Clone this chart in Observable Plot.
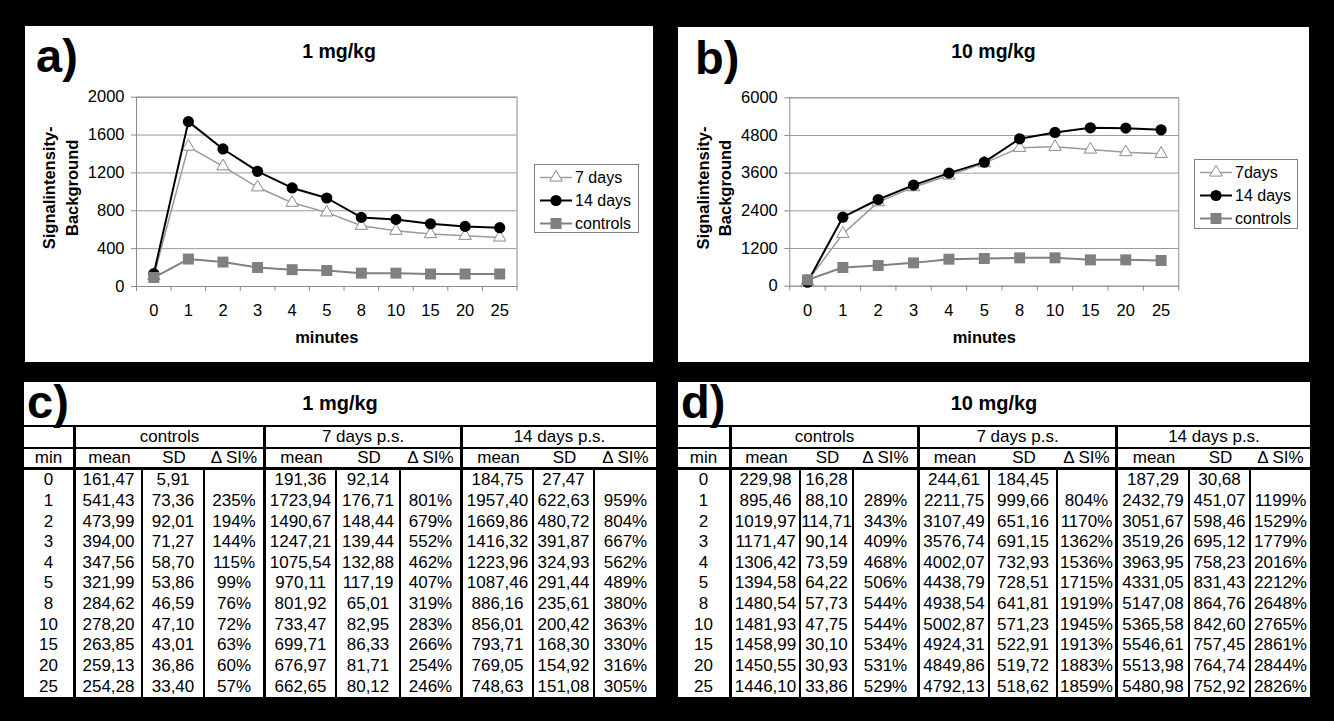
<!DOCTYPE html>
<html><head><meta charset="utf-8">
<script src="https://cdn.jsdelivr.net/npm/d3@7"></script>
<script src="https://cdn.jsdelivr.net/npm/@observablehq/plot@0.6"></script>
<style>
html,body{margin:0;padding:0;background:#000;width:1334px;height:721px;overflow:hidden;font-family:"Liberation Sans",Arial,sans-serif;color:#000;}
.panel{position:absolute;background:#fff;overflow:visible;}
.tag{position:absolute;font-weight:bold;font-size:47px;line-height:46px;white-space:nowrap;}
.ptitle{position:absolute;left:0;right:0;text-align:center;font-weight:bold;font-size:19.5px;line-height:22px;}
.legend{position:absolute;border:1px solid #808080;background:#fff;box-sizing:border-box;}
.lrow{position:absolute;left:0;height:23px;width:100%;}
.lrow svg{position:absolute;left:4px;top:0;}
.lrow span{position:absolute;left:40px;top:0;line-height:23px;font-size:16px;white-space:nowrap;}
.grid{position:absolute;display:grid;background:#fff;font-size:17px;}
.grid div{box-sizing:border-box;display:flex;align-items:center;justify-content:center;white-space:nowrap;border:0 solid #000;}
</style>
</head><body>
<script>
// ---------- data ----------
const minutes = ["0","1","2","3","4","5","8","10","15","20","25"];

// chart a) 1 mg/kg : signal intensity - background
const a7days  = [110, 1478, 1270, 1048, 885, 783, 642, 589, 554, 536, 518];
const a14days = [135, 1742, 1453, 1217, 1041, 935, 730, 709, 663, 635, 621];
const aControls = [95, 290, 258, 201, 178, 169, 141, 141, 132, 132, 132];

// chart b) 10 mg/kg
const b7days  = [160, 1667, 2676, 3154, 3526, 3919, 4407, 4439, 4354, 4269, 4216];
const b14days = [127, 2198, 2761, 3218, 3600, 3950, 4694, 4896, 5044, 5034, 4981];
const bControls = [202, 595, 658, 743, 860, 881, 903, 903, 839, 839, 818];

const aYTicks = [0, 400, 800, 1200, 1600, 2000];
const bYTicks = [0, 1200, 2400, 3600, 4800, 6000];

// table c) 1 mg/kg
const cCtrlMean = [161.47, 541.43, 473.99, 394.00, 347.56, 321.99, 284.62, 278.20, 263.85, 259.13, 254.28];
const cCtrlSD   = [5.91, 73.36, 92.01, 71.27, 58.70, 53.86, 46.59, 47.10, 43.01, 36.86, 33.40];
const cCtrlDSI  = [null, 235, 194, 144, 115, 99, 76, 72, 63, 60, 57];
const c7Mean = [191.36, 1723.94, 1490.67, 1247.21, 1075.54, 970.11, 801.92, 733.47, 699.71, 676.97, 662.65];
const c7SD   = [92.14, 176.71, 148.44, 139.44, 132.88, 117.19, 65.01, 82.95, 86.33, 81.71, 80.12];
const c7DSI  = [null, 801, 679, 552, 462, 407, 319, 283, 266, 254, 246];
const c14Mean = [184.75, 1957.40, 1669.86, 1416.32, 1223.96, 1087.46, 886.16, 856.01, 793.71, 769.05, 748.63];
const c14SD   = [27.47, 622.63, 480.72, 391.87, 324.93, 291.44, 235.61, 200.42, 168.30, 154.92, 151.08];
const c14DSI  = [null, 959, 804, 667, 562, 489, 380, 363, 330, 316, 305];

// table d) 10 mg/kg
const dCtrlMean = [229.98, 895.46, 1019.97, 1171.47, 1306.42, 1394.58, 1480.54, 1481.93, 1458.99, 1450.55, 1446.10];
const dCtrlSD   = [16.28, 88.10, 114.71, 90.14, 73.59, 64.22, 57.73, 47.75, 30.10, 30.93, 33.86];
const dCtrlDSI  = [null, 289, 343, 409, 468, 506, 544, 544, 534, 531, 529];
const d7Mean = [244.61, 2211.75, 3107.49, 3576.74, 4002.07, 4438.79, 4938.54, 5002.87, 4924.31, 4849.86, 4792.13];
const d7SD   = [184.45, 999.66, 651.16, 691.15, 732.93, 728.51, 641.81, 571.23, 522.91, 519.72, 518.62];
const d7DSI  = [null, 804, 1170, 1362, 1536, 1715, 1919, 1945, 1913, 1883, 1859];
const d14Mean = [187.29, 2432.79, 3051.67, 3519.26, 3963.95, 4331.05, 5147.08, 5365.58, 5546.61, 5513.98, 5480.98];
const d14SD   = [30.68, 451.07, 598.46, 695.12, 758.23, 831.43, 864.76, 842.60, 757.45, 764.74, 752.92];
const d14DSI  = [null, 1199, 1529, 1779, 2016, 2212, 2648, 2765, 2861, 2844, 2826];

const groupLabels = ["controls", "7 days p.s.", "14 days p.s."];
const subLabels = ["mean", "SD", "\u0394 SI%"];

// ---------- styles ----------
const S7 = {stroke: "#9a9a9a", lineW: 1.5, symbol: "triangle", r: 4.6, fill: "#fff", mstroke: "#8a8a8a"};
const S14 = {stroke: "#000", lineW: 2, symbol: "circle", r: 5.6, fill: "#000", mstroke: "none"};
const SC = {stroke: "#808080", lineW: 2, symbol: "square", r: 6.2, fill: "#808080", mstroke: "none"};

function panel(left, top, w, h) {
  const d = document.createElement("div");
  d.className = "panel";
  Object.assign(d.style, {left: left + "px", top: top + "px", width: w + "px", height: h + "px"});
  document.body.appendChild(d);
  return d;
}
function addText(parent, cls, text, css) {
  const d = document.createElement("div");
  d.className = cls; d.textContent = text;
  Object.assign(d.style, css || {});
  parent.appendChild(d);
  return d;
}

function chart(el, cfg) {
  const idx = d3.range(minutes.length);
  const bounds = d3.range(-0.5, minutes.length, 1);
  const series = [[cfg.s7, S7], [cfg.s14, S14], [cfg.sc, SC]];
  const marks = [
    Plot.ruleY(cfg.yTicks, {stroke: "#9a9a9a", strokeWidth: 1}),
    Plot.frame({stroke: "#8c8c8c", strokeWidth: 1}),
    Plot.axisY({ticks: cfg.yTicks, tickSize: 5, tickPadding: 7, stroke: "#8c8c8c", label: null, tickFormat: d => String(d)}),
    Plot.axisX({ticks: idx, tickSize: 0, tickPadding: 18, tickFormat: i => minutes[i], label: null}),
    Plot.axisX({ticks: bounds, tickSize: 5, tickFormat: () => "", stroke: "#8c8c8c", label: null}),
    Plot.text(["Signalintensity-\nBackground"], {frameAnchor: "left", rotate: -90, dx: -77, dy: -4, fontWeight: "bold", fontSize: 16.5, lineHeight: 1.36, textAnchor: "middle"}),
    Plot.text(["minutes"], {frameAnchor: "bottom", lineAnchor: "middle", dy: 51.5, fontWeight: "bold", fontSize: 16.5})
  ];
  for (const [vals, st] of series) {
    marks.push(Plot.line(idx, {x: i => i, y: i => vals[i], stroke: st.stroke, strokeWidth: st.lineW}));
    marks.push(Plot.dot(idx, {x: i => i, y: i => vals[i], symbol: st.symbol, r: st.r, fill: st.fill, stroke: st.mstroke, strokeWidth: 1}));
  }
  const svg = Plot.plot({
    width: cfg.w, height: cfg.h,
    marginLeft: cfg.ml, marginRight: cfg.mr, marginTop: cfg.mt, marginBottom: cfg.mb,
    x: {type: "linear", domain: [-0.5, minutes.length - 0.5]},
    y: {type: "linear", domain: [0, cfg.yTicks[cfg.yTicks.length - 1]]},
    style: {fontFamily: "'Liberation Sans', Arial, sans-serif", fontSize: "16.5px", background: "transparent", color: "#000", overflow: "visible"},
    marks
  });
  svg.style.position = "absolute"; svg.style.left = "0px"; svg.style.top = "0px";
  el.appendChild(svg);
}

function legend(el, left, top, w, h, names) {
  const L = document.createElement("div");
  L.className = "legend";
  Object.assign(L.style, {left: left + "px", top: top + "px", width: w + "px", height: h + "px"});
  [S7, S14, SC].forEach((st, k) => {
    const row = document.createElement("div");
    row.className = "lrow"; row.style.top = (1 + k * 23) + "px";
    const s = d3.create("svg").attr("width", 34).attr("height", 23);
    s.append("line").attr("x1", 1).attr("x2", 33).attr("y1", 11.5).attr("y2", 11.5).attr("stroke", st.stroke).attr("stroke-width", st.lineW);
    const sym = {triangle: d3.symbolTriangle, circle: d3.symbolCircle, square: d3.symbolSquare}[st.symbol];
    s.append("path").attr("transform", "translate(17,11.5)")
      .attr("d", d3.symbol(sym, Math.PI * st.r * st.r)())
      .attr("fill", st.fill).attr("stroke", st.mstroke);
    row.appendChild(s.node());
    const sp = document.createElement("span"); sp.textContent = names[k];
    row.appendChild(sp);
    L.appendChild(row);
  });
  el.appendChild(L);
}

const fmt = v => v.toFixed(2).replace(".", ",");
const fmtP = v => v == null ? "" : v + "%";

function table(left, top, cols, tag, title, groups) {
  const g = document.createElement("div");
  g.className = "grid";
  Object.assign(g.style, {left: left + "px", top: top + "px", width: d3.sum(cols) + "px", height: "315px",
    gridTemplateColumns: cols.map(c => c + "px").join(" "),
    gridTemplateRows: "45px 22px 21px repeat(11, 20.636px)"});
  const cell = (text, css) => { const d = document.createElement("div"); d.textContent = text; Object.assign(d.style, css || {}); g.appendChild(d); return d; };
  const t = cell("", {gridColumn: "1 / -1", borderBottomWidth: "2px", position: "relative"});
  addText(t, "tag", tag, {left: "3px", top: "-3px"});
  addText(t, "", title, {fontWeight: "bold", fontSize: "20px"});
  // header row 1
  cell("", {borderRightWidth: "3px", borderBottomWidth: "2px"});
  groupLabels.forEach((lab, k) => cell(lab, {gridColumn: "span 3", borderBottomWidth: "2px", borderRightWidth: k < 2 ? "3px" : "0"}));
  // header row 2
  cell("min", {borderRightWidth: "3px", borderBottomWidth: "3px"});
  groupLabels.forEach((lab, k) => subLabels.forEach((s, j) => cell(s, {borderBottomWidth: "3px", borderRightWidth: (j === 2 && k < 2) ? "3px" : "0"})));
  // data rows
  minutes.forEach((m, i) => {
    cell(m, {borderRightWidth: "3px"});
    groups.forEach((grp, k) => {
      cell(fmt(grp[0][i]), {borderRightWidth: "2px"});
      cell(fmt(grp[1][i]), {borderRightWidth: "2px"});
      cell(fmtP(grp[2][i]), {borderRightWidth: k < 2 ? "3px" : "0"});
    });
  });
  document.body.appendChild(g);
}

// ---------- build ----------
const pa = panel(25, 26, 628, 336);
addText(pa, "tag", "a)", {left: "11px", top: "7px"});
addText(pa, "ptitle", "1 mg/kg", {top: "14px"});
chart(pa, {w: 628, h: 336, ml: 111, mr: 136.5, mt: 70.7, mb: 76, yTicks: aYTicks, s7: a7days, s14: a14days, sc: aControls});
legend(pa, 509, 138, 105, 69, ["7 days", "14 days", "controls"]);

const pb = panel(678, 27, 631, 335);
addText(pb, "tag", "b)", {left: "17px", top: "8px"});
addText(pb, "ptitle", "10 mg/kg", {top: "13px"});
chart(pb, {w: 631, h: 335, ml: 111.3, mr: 130.7, mt: 70.3, mb: 76.3, yTicks: bYTicks, s7: b7days, s14: b14days, sc: bControls});
legend(pb, 516, 132, 104, 70, ["7days", "14 days", "controls"]);

table(24, 382, [52, 67, 62, 61, 71, 64, 62, 71, 61, 61], "c)", "1 mg/kg",
  [[cCtrlMean, cCtrlSD, cCtrlDSI], [c7Mean, c7SD, c7DSI], [c14Mean, c14SD, c14DSI]]);
table(678, 382, [54, 69, 53, 66, 70, 68, 60, 72, 61, 59], "d)", "10 mg/kg",
  [[dCtrlMean, dCtrlSD, dCtrlDSI], [d7Mean, d7SD, d7DSI], [d14Mean, d14SD, d14DSI]]);
</script>
</body></html>
